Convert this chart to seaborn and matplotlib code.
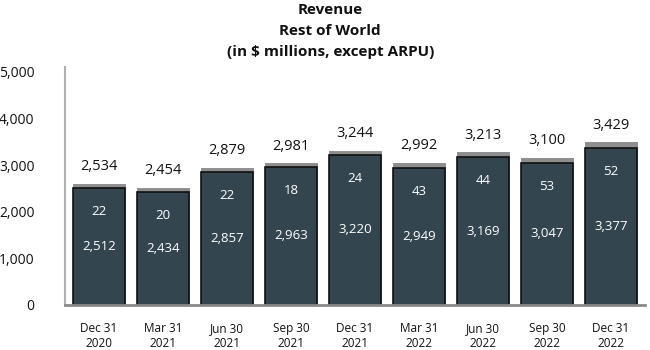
import pandas as pd
import matplotlib.pyplot as plt
import seaborn as sns

# data
quarters = ['Dec 31\n2020', 'Mar 31\n2021', 'Jun 30\n2021', 'Sep 30\n2021', 'Dec 31\n2021',
            'Mar 31\n2022', 'Jun 30\n2022', 'Sep 30\n2022', 'Dec 31\n2022']
base = [2512, 2434, 2857, 2963, 3220, 2949, 3169, 3047, 3377]
other = [22, 20, 22, 18, 24, 43, 44, 53, 52]
total = [2534, 2454, 2879, 2981, 3244, 2992, 3213, 3100, 3429]
yticks = [0, 1000, 2000, 3000, 4000, 5000]

df = pd.DataFrame({'quarter': quarters, 'base': base, 'other': other, 'total': total})

sns.set_style('white')
plt.rcParams['font.family'] = ['Open Sans', 'DejaVu Sans']

fig = plt.figure(figsize=(6.5, 3.5), dpi=100)
ax = fig.add_axes([0.1, 0.1286, 0.892, 0.68])

dark = '#334650'
# gray cap (total) behind, dark base in front
sns.barplot(data=df, x='quarter', y='total', color='#8e8e8e', saturation=1,
            width=0.715, edgecolor='#8e8e8e', linewidth=5, ax=ax)
sns.barplot(data=df, x='quarter', y='base', color=dark, saturation=1,
            width=0.82, edgecolor='#111111', linewidth=1.2, ax=ax)

for i, row in df.iterrows():
    ax.annotate(f"{row['total']:,}", (i, row['total']), xytext=(0, 9),
                textcoords='offset points', ha='center', va='bottom',
                fontsize=10.5, color='#111111')
    ax.annotate(f"{row['other']}", (i, row['base']), xytext=(0, -17),
                textcoords='offset points', ha='center', va='center',
                fontsize=9.5, color='white')
    ax.text(i, row['base'] / 2, f"{row['base']:,}", ha='center', va='center',
            fontsize=9.5, color='white')

ax.set_xlim(-0.53, 8.53)
ax.set_ylim(0, 5107)
ax.set_yticks(yticks)
ax.set_yticklabels([f'{v:,}' for v in yticks], fontsize=10, color='#111111')
ax.tick_params(axis='y', length=0, pad=22)
ax.tick_params(axis='x', length=0, pad=12, labelsize=8.5, labelcolor='#111111')
ax.set_xlabel('')
ax.set_ylabel('')

for s in ['top', 'right']:
    ax.spines[s].set_visible(False)
ax.spines['left'].set_color('#b0b0b0')
ax.spines['left'].set_linewidth(1.5)
ax.spines['bottom'].set_color('#8a8a8a')
ax.spines['bottom'].set_linewidth(2)

fig.text(0.508, 0.99, 'Revenue\nRest of World\n(in $ millions, except ARPU)',
         ha='center', va='top', fontsize=11, fontweight='bold',
         linespacing=1.6, color='#111111')

fig.savefig('out.png', dpi=100)
